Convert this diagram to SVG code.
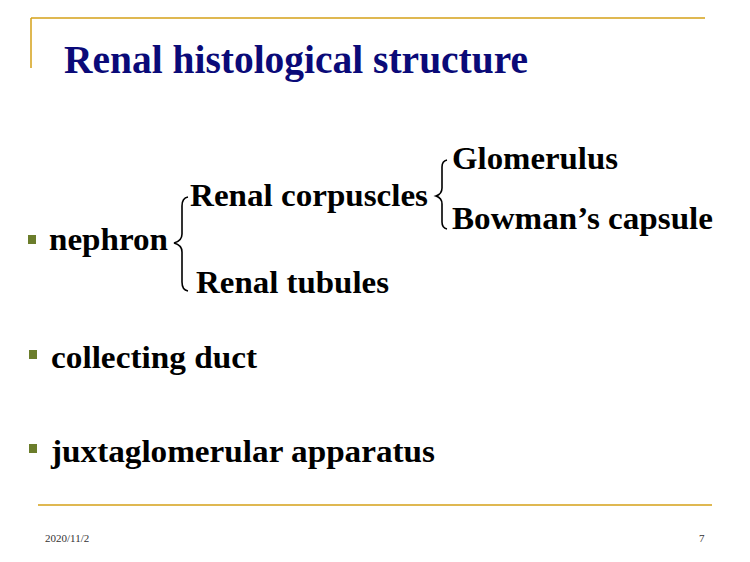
<svg xmlns="http://www.w3.org/2000/svg" width="750" height="562" viewBox="0 0 750 562">
<style>
.t{font-family:"Liberation Serif","Times New Roman",serif;font-weight:bold;font-size:31px;fill:#000}
.b{fill:#6b7d2b}
.br{fill:none;stroke:#000;stroke-width:1.6}
.ln{stroke:#d4a017;stroke-width:1.5}
.f{font-family:"Liberation Serif",serif;font-size:11px;fill:#333}
</style>
<rect width="750" height="562" fill="#fff"/>
<line class="ln" x1="31" y1="18" x2="705" y2="18"/>
<line class="ln" x1="31" y1="18" x2="31" y2="68"/>
<line class="ln" x1="38" y1="505" x2="712" y2="505"/>
<text x="64" y="73" textLength="464" lengthAdjust="spacingAndGlyphs" style="font-family:'Liberation Serif',serif;font-weight:bold;font-size:39px;fill:#0a0a78">Renal histological structure</text>
<g id="nephron"><rect class="b" x="28" y="235" width="8" height="9"/><text class="t" x="49" y="250" textLength="119" lengthAdjust="spacingAndGlyphs">nephron</text></g>
<g id="corpuscles"><text class="t" x="190" y="206" textLength="238" lengthAdjust="spacingAndGlyphs">Renal corpuscles</text></g>
<g id="tubules"><text class="t" x="196" y="293" textLength="193" lengthAdjust="spacingAndGlyphs">Renal tubules</text></g>
<g id="glomerulus"><text class="t" x="452" y="169" textLength="166" lengthAdjust="spacingAndGlyphs">Glomerulus</text></g>
<g id="bowman"><text class="t" x="452" y="229" textLength="261" lengthAdjust="spacingAndGlyphs">Bowman’s capsule</text></g>
<g id="duct"><rect class="b" x="29" y="350" width="8" height="9"/><text class="t" x="51" y="368" textLength="206" lengthAdjust="spacingAndGlyphs">collecting duct</text></g>
<g id="jga"><rect class="b" x="29" y="444" width="8" height="9"/><text class="t" x="51" y="462" textLength="384" lengthAdjust="spacingAndGlyphs">juxtaglomerular apparatus</text></g>
<g id="connectors">
<path class="br" d="M188,197 Q182,198 182,206 L182,234 Q182,241 174,243 Q182,245 182,252 L182,282 Q182,290 188,291"/>
<path class="br" d="M447,160 Q442,161 442,167 L442,188 Q442,194 436,196 Q442,198 442,204 L442,222 Q442,228 447,229"/>
</g>
<text class="f" x="45" y="542">2020/11/2</text>
<text class="f" x="699" y="542">7</text>
</svg>
